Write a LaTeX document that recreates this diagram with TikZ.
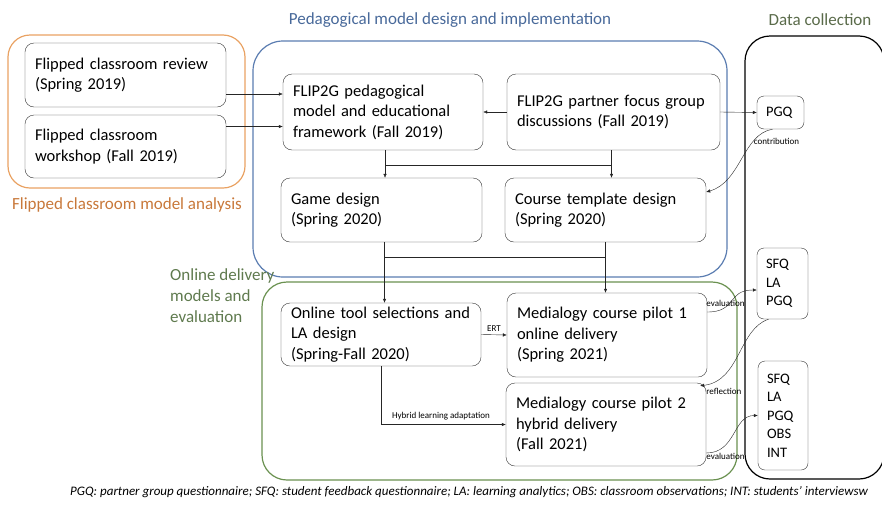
\documentclass[tikz,border=0pt]{standalone}
\usepackage{fontspec}
\setmainfont{Carlito}
\usepackage{xcolor}
\usetikzlibrary{arrows.meta}
\definecolor{FlipOrange}{HTML}{E9A263}
\definecolor{FlipOrangeText}{HTML}{C8783A}
\definecolor{PedBlue}{HTML}{5B7DB1}
\definecolor{PedBlueText}{HTML}{48699A}
\definecolor{OnlineGreen}{HTML}{6A9150}
\definecolor{OnlineGreenText}{HTML}{5F7A4E}
\definecolor{DataText}{HTML}{5A6B4A}

\tikzset{
  stage/.style={
    draw=black!80,
    rounded corners=9pt,
    align=left,
    inner xsep=10pt,
    font=\fontsize{16.5}{20.5}\selectfont
  },
  databox/.style={
    draw=black!80,
    rounded corners=7pt,
    align=left,
    inner xsep=9pt,
    font=\fontsize{14.5}{18.5}\selectfont
  },
  container/.style={
    line width=1.2pt,
    minimum width=#1
  },
  grouplabel/.style={
    font=\fontsize{17}{21}\selectfont
  },
  linklabel/.style={
    font=\fontsize{9}{10}\selectfont,
    inner sep=1pt
  },
  link/.style={
    draw=black!85,
    -{Latex[length=4pt,width=3.5pt]}
  }
}

\begin{document}
\begin{tikzpicture}[x=1pt, y=-1pt]
    \useasboundingbox (0,0) rectangle (882,509);

    % group frames
    \node[container=237pt, draw=FlipOrange, rounded corners=22pt, minimum height=153pt] (flipgroup) at (126.5,111.5) {};
    \node[container=474pt, draw=PedBlue, rounded corners=30pt, minimum height=236pt] (pedgroup) at (490,159) {};
    \node[container=475pt, draw=OnlineGreen, rounded corners=25pt, minimum height=198pt] (onlinegroup) at (499.5,381) {};
    \node[container=139pt, draw=black, rounded corners=25pt, minimum height=443pt] (datagroup) at (814.5,257.5) {};

    % group titles
    \node[grouplabel, text=PedBlueText] (pedtitle) at (450,20) {Pedagogical model design and implementation};
    \node[grouplabel, text=DataText] (datatitle) at (820,20) {Data collection};
    \node[grouplabel, text=FlipOrangeText] (fliptitle) at (127,205) {Flipped classroom model analysis};
    \node[grouplabel, text=OnlineGreenText, align=left, anchor=north west, inner sep=0pt] (onlinetitle) at (170,268)
      {Online delivery\\models and\\evaluation};

    % stages
    \node[stage, minimum width=201pt, minimum height=64pt, text width=181pt] (review) at (125.5,75)
      {Flipped classroom review\\(Spring 2019)};
    \node[stage, minimum width=201pt, minimum height=63pt, text width=181pt] (workshop) at (125.5,146.5)
      {Flipped classroom\\workshop (Fall 2019)};
    \node[stage, minimum width=200pt, minimum height=76pt, text width=180pt] (flip) at (383,112)
      {FLIP2G pedagogical\\model and educational\\framework (Fall 2019)};
    \node[stage, minimum width=213pt, minimum height=76pt, text width=193pt] (partner) at (613.5,112)
      {FLIP2G partner focus group\\discussions (Fall 2019)};
    \node[stage, minimum width=201pt, minimum height=64pt, text width=181pt] (game) at (381.5,210)
      {Game design\\(Spring 2020)};
    \node[stage, minimum width=201pt, minimum height=64pt, text width=181pt] (course) at (605.5,210)
      {Course template design\\(Spring 2020)};
    \node[stage, minimum width=200pt, minimum height=63pt, text width=180pt] (online) at (381,334.5)
      {Online tool selections and\\LA design\\(Spring-Fall 2020)};
    \node[stage, minimum width=200pt, minimum height=84pt, text width=180pt] (pilot1) at (607,335)
      {Medialogy course pilot 1\\online delivery\\(Spring 2021)};
    \node[stage, minimum width=200pt, minimum height=83pt, text width=180pt] (pilot2) at (606,424.5)
      {Medialogy course pilot 2\\hybrid delivery\\(Fall 2021)};

    % data collection
    \node[databox, minimum width=47pt, minimum height=33pt, text width=29pt] (pgq) at (780.5,112.5) {PGQ};
    \node[databox, minimum width=51pt, minimum height=71pt, text width=33pt] (dataone) at (782.5,283.5)
      {SFQ\\LA\\PGQ};
    \node[databox, minimum width=50pt, minimum height=109pt, text width=32pt] (datatwo) at (783,415.5)
      {SFQ\\LA\\PGQ\\OBS\\INT};

    % flow
    \coordinate (splitone) at (0,165);
    \coordinate (splittwo) at (0,257);
    \draw[link] ([yshift=-19pt]review.east) -- ([yshift=-19pt]review.east -| flip.west);
    \draw[link] ([yshift=20pt]workshop.east) -- ([yshift=20pt]workshop.east -| flip.west);
    \draw[link] (partner.west) -- (flip.east);
    \draw[link] (partner.east) -- (pgq.west);
    \draw[link] ([xshift=2pt]flip.south) -- ([xshift=2pt]flip.south |- game.north);
    \draw[draw=black!85] ([xshift=2pt]flip.south |- splitone) -- ([xshift=-2pt]partner.south |- splitone);
    \draw[link] ([xshift=-2pt]partner.south) -- ([xshift=-2pt]partner.south |- course.north);
    \draw[draw=black!85] ([xshift=3pt]game.south) -- ([xshift=3pt]game.south |- splittwo) -- (course.south |- splittwo);
    \draw[draw=black!85] (course.south) -- (course.south |- splittwo);
    \draw[link] ([xshift=3pt]game.south |- splittwo) -- ([xshift=3pt]game.south |- online.north);
    \draw[link] (course.south |- splittwo) -- (course.south |- pilot1.north);
    \draw[link] (online.east) -- node[linklabel, above=2pt] {ERT} (pilot1.west);
    \draw[link] (online.south) |- node[linklabel, pos=0.74, above=3pt] {Hybrid learning adaptation} (pilot2.west);

    % feedback curves
    \draw[link] ([xshift=-8pt]pgq.south) .. controls +(-30,5) and +(35,-10) .. ([yshift=18pt]course.east)
      node[linklabel, pos=0, anchor=north, xshift=4pt, yshift=-8pt] {contribution};
    \draw[link] ([yshift=23pt]pilot1.east) .. controls +(30,0) and +(-30,0) .. ([yshift=-6.5pt]dataone.west)
      node[linklabel, pos=0.3, yshift=4pt] {evaluation};
    \draw[link] ([xshift=-14pt]dataone.south) .. controls +(-30,10) and +(40,-5) .. ([xshift=-6pt, yshift=-3pt]pilot2.north east)
      node[linklabel, pos=1, anchor=west, xshift=5pt, yshift=-6pt] {reflection};
    \draw[link] ([yshift=-28.5pt]pilot2.east) .. controls +(30,0) and +(-25,0) .. (datatwo.west)
      node[linklabel, pos=0, anchor=west, xshift=-1pt, yshift=-3pt] {evaluation};

    % caption
    \node[font=\fontsize{13}{15}\selectfont\itshape] (legend) at (469,492)
      {PGQ: partner group questionnaire; SFQ: student feedback questionnaire; LA: learning analytics; OBS: classroom observations; INT: students’ interviewsw};
\end{tikzpicture}
\end{document}
